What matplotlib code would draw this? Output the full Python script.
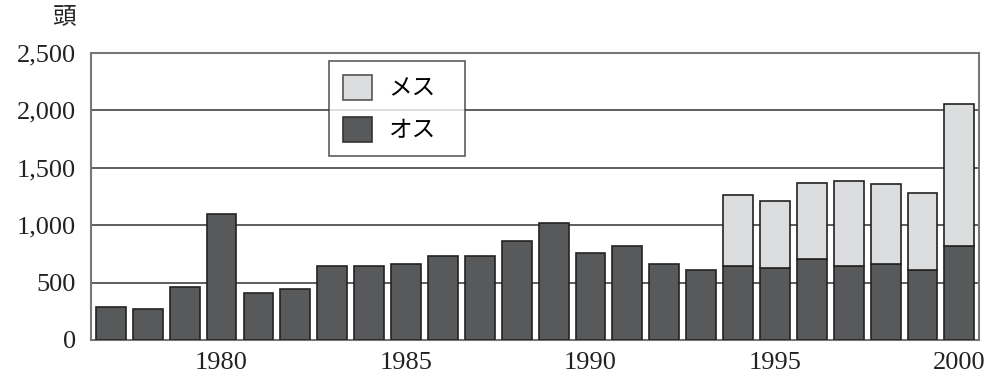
import numpy as np
import matplotlib.pyplot as plt
from matplotlib.patches import Patch

plt.rcParams['font.family'] = ['Liberation Serif', 'Noto Sans CJK JP']

years = np.arange(1977, 2001)
male = [285, 270, 464, 1100, 407, 447, 647, 647, 665, 729, 729, 860,
        1022, 755, 821, 662, 612, 645, 627, 705, 647, 659, 607, 819]
# females only counted from 1994 on
female = [0] * 17 + [615, 584, 662, 738, 697, 676, 1234]

yticks = [0, 500, 1000, 1500, 2000, 2500]
ytick_labels = ['0', '500', '1,000', '1,500', '2,000', '2,500']
xticks = [1980, 1985, 1990, 1995, 2000]

dark = '#58595b'
light = '#dcdddf'
edge = '#222222'

fig = plt.figure(figsize=(9.93, 3.83), dpi=100)
ax = fig.add_axes([0.0916, 0.1123, 0.8946, 0.7493])

ax.bar(years, male, width=0.81, color=dark, edgecolor=edge, linewidth=1.2, zorder=3)
ax.bar(years, female, width=0.81, bottom=male, color=light, edgecolor=edge,
       linewidth=1.2, zorder=3)
# hide edges of empty female segments
for p, f in zip(ax.patches[len(years):], female):
    if f == 0:
        p.set_visible(False)

ax.set_xlim(1976.46, 2000.54)
ax.set_ylim(0, 2500)
ax.set_yticks(yticks)
ax.set_yticklabels(ytick_labels)
ax.set_xticks(xticks)
ax.tick_params(length=0, labelsize=19, colors='#222222')
ax.tick_params(axis='y', pad=11)
ax.tick_params(axis='x', pad=9)
ax.grid(axis='y', color='#333333', linewidth=1.1, zorder=0)
for s in ax.spines.values():
    s.set_color('#777777')
    s.set_linewidth(1.5)

fig.text(0.064, 0.953, '頭', fontsize=17, family='Noto Sans CJK JP',
         ha='center', va='center', color='#222222')

handles = [Patch(facecolor=light, edgecolor='#555555', linewidth=1.2, label='メス'),
           Patch(facecolor=dark, edgecolor='#333333', linewidth=1.2, label='オス')]
leg = ax.legend(handles=handles, loc='upper left',
                bbox_to_anchor=(0.268, 0.972, 0.153, 0.0), mode='expand',
                prop={'family': 'Noto Sans CJK JP', 'size': 17}, frameon=True,
                fancybox=False, handlelength=1.25, handleheight=1.25,
                handletextpad=0.7, labelspacing=0.72, borderpad=0.58,
                borderaxespad=0)
leg.get_frame().set_edgecolor('#333333')
leg.get_frame().set_linewidth(1.2)
leg.set_zorder(5)

fig.savefig('out.png', dpi=100)
